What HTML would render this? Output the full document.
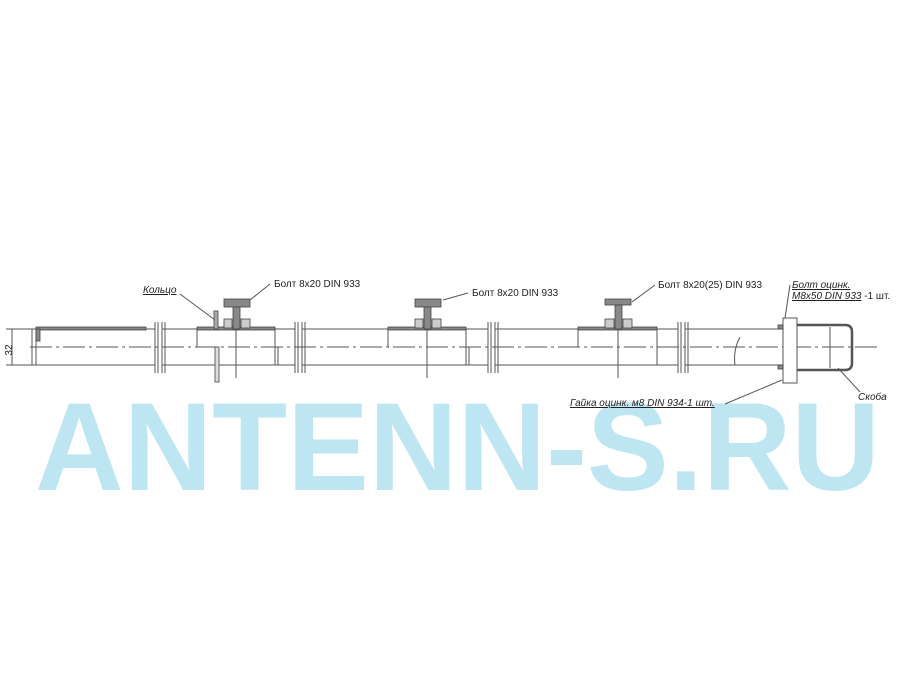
<!DOCTYPE html><html><head><meta charset="utf-8"><style>body{margin:0;background:#fff}svg{display:block}</style></head><body>
<svg width="900" height="675" viewBox="0 0 900 675" xmlns="http://www.w3.org/2000/svg" font-family="Liberation Sans, sans-serif">
<text x="35" y="490" font-size="125" font-weight="bold" fill="#bde6f2" textLength="845" lengthAdjust="spacingAndGlyphs">ANTENN-S.RU</text>
<g stroke="#555" stroke-width="1" fill="none">
<line x1="6" y1="329" x2="32" y2="329"/><line x1="6" y1="365" x2="32" y2="365"/>
<line x1="12" y1="329" x2="12" y2="365"/>
<path d="M32 329H155M162 329H295M302 329H488M495 329H678M685 329H785"/>
<path d="M32 365H155M162 365H295M302 365H488M495 365H678M685 365H785"/>
<line x1="32" y1="329" x2="32" y2="365"/><line x1="36" y1="329" x2="36" y2="365"/>
<path d="M155 322V373M158 322V373M162 322V373M165 322V373"/>
<path d="M295 322V373M298 322V373M302 322V373M305 322V373"/>
<path d="M488 322V373M491 322V373M495 322V373M498 322V373"/>
<path d="M678 322V373M681 322V373M685 322V373M688 322V373"/>
<path d="M197 347V329M275 329V365M278 347V365"/>
<path d="M388 347V329M466 329V365M469 347V365"/>
<path d="M578 347V329M657 329V365"/>
<line x1="236" y1="320" x2="236" y2="378"/><line x1="427" y1="320" x2="427" y2="378"/><line x1="618" y1="320" x2="618" y2="378"/>
<path d="M740 337Q733 350 735 365"/>
<line x1="30" y1="347" x2="880" y2="347" stroke-dasharray="22,4,3,4"/>
<rect x="783" y="318" width="14" height="65" fill="#fff"/>
<path d="M797 325H845Q852 325 852 332V363Q852 370 845 370H797" stroke-width="2.5"/>
<line x1="830" y1="327" x2="830" y2="368"/>
<line x1="180" y1="294" x2="215" y2="320"/>
<line x1="250" y1="300" x2="270" y2="284"/>
<line x1="443" y1="300" x2="468" y2="293"/>
<line x1="632" y1="302" x2="655" y2="285"/>
<line x1="790" y1="285" x2="785" y2="318"/>
<line x1="725" y1="404" x2="782" y2="380"/>
<line x1="838" y1="368" x2="860" y2="392"/>
</g>
<g fill="#888" stroke="#444" stroke-width="0.8">
<rect x="36" y="327" width="110" height="3"/><rect x="36" y="329" width="4" height="12"/>
<rect x="197" y="327" width="78" height="3"/><rect x="388" y="327" width="78" height="3"/><rect x="578" y="327" width="79" height="3"/>
<rect x="224" y="299" width="26" height="8"/><rect x="233" y="307" width="7" height="22"/>
<rect x="224" y="319" width="8" height="9" fill="#ccc"/><rect x="241" y="319" width="9" height="9" fill="#ccc"/>
<rect x="415" y="299" width="26" height="8"/><rect x="424" y="307" width="7" height="22"/>
<rect x="415" y="319" width="8" height="9" fill="#ccc"/><rect x="432" y="319" width="9" height="9" fill="#ccc"/>
<rect x="605" y="299" width="26" height="6"/><rect x="615" y="305" width="7" height="24"/>
<rect x="605" y="319" width="9" height="9" fill="#ccc"/><rect x="623" y="319" width="9" height="9" fill="#ccc"/>
<rect x="214" y="311" width="4" height="18" fill="#aaa"/><rect x="215" y="347" width="4" height="35" fill="#ddd"/>
<rect x="778" y="325" width="5" height="4"/><rect x="778" y="365" width="5" height="4"/>
</g>
<g font-size="10" fill="#222">
<text x="5" y="347" transform="rotate(-90 8 347)" text-anchor="middle" dy="4">32</text>
<text x="143" y="293" font-style="italic" text-decoration="underline">Кольцо</text>
<text x="274" y="287">Болт 8x20 DIN 933</text>
<text x="472" y="296">Болт 8x20 DIN 933</text>
<text x="658" y="288">Болт 8x20(25) DIN 933</text>
<text x="792" y="288" font-style="italic" text-decoration="underline">Болт оцинк.</text>
<text x="792" y="299"><tspan font-style="italic" text-decoration="underline">M8x50 DIN 933</tspan> -1 шт.</text>
<text x="570" y="406" font-style="italic" text-decoration="underline">Гайка оцинк. м8 DIN 934-1 шт.</text>
<text x="858" y="400" font-style="italic">Скоба</text>
</g>
</svg>
</body></html>
